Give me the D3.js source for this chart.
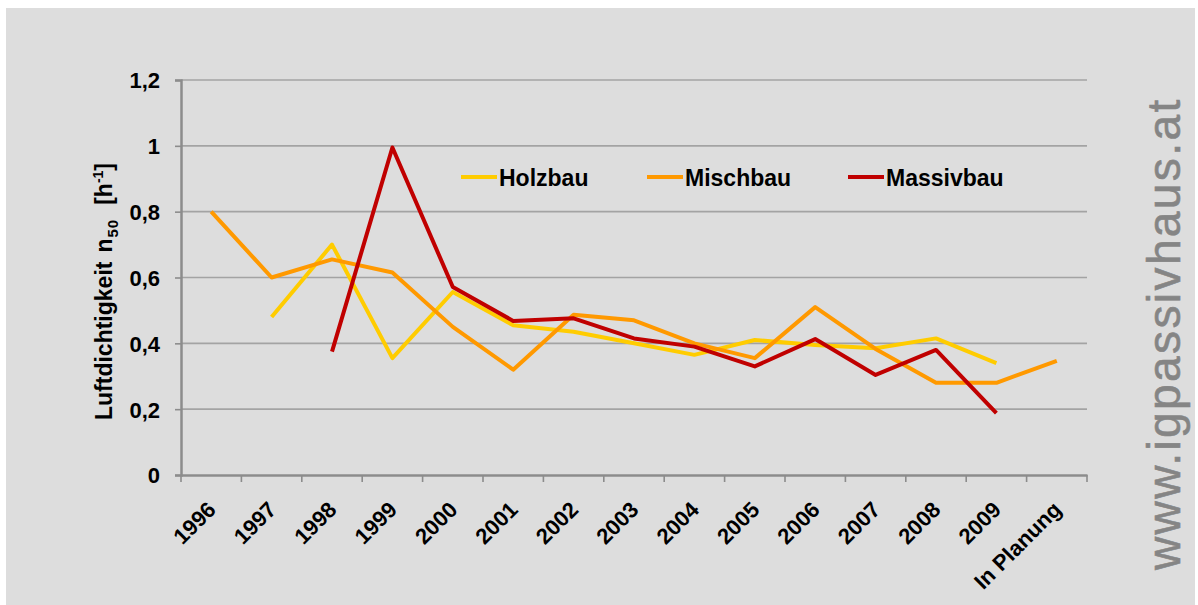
<!DOCTYPE html>
<html>
<head>
<meta charset="utf-8">
<script src="https://cdn.jsdelivr.net/npm/d3@7"></script>
<style>
  html, body { margin: 0; padding: 0; background: #ffffff; }
  svg { display: block; }
  text { font-family: "Liberation Sans", Arial, sans-serif; }
</style>
</head>
<body>
<svg id="chart" width="1198" height="605"></svg>
<script>
const categories = ["1996", "1997", "1998", "1999", "2000", "2001", "2002", "2003", "2004", "2005", "2006", "2007", "2008", "2009", "In Planung"];
const holzbau   = [null, 0.48, 0.70, 0.355, 0.556, 0.455, 0.435, 0.40, 0.365, 0.41, 0.395, 0.385, 0.415, 0.34, null];
const mischbau  = [0.80, 0.60, 0.655, 0.615, 0.45, 0.32, 0.487, 0.47, 0.40, 0.355, 0.51, 0.383, 0.28, 0.28, 0.347];
const massivbau = [null, null, 0.375, 0.995, 0.571, 0.468, 0.476, 0.415, 0.39, 0.33, 0.413, 0.304, 0.38, 0.188, null];
const seriesNames = ["Holzbau", "Mischbau", "Massivbau"];
const yTickValues = [0, 0.2, 0.4, 0.6, 0.8, 1, 1.2];
const yTickLabels = ["0", "0,2", "0,4", "0,6", "0,8", "1", "1,2"];
const watermark = "www.igpassivhaus.at";

const colors = ["#ffcc00", "#ff9900", "#c00000"];
const seriesValues = [holzbau, mischbau, massivbau];

const svg = d3.select("#chart");
const plotLeft = 181, plotRight = 1087, plotTop = 80, plotBottom = 475;

svg.append("rect").attr("x", 6).attr("y", 8).attr("width", 1189).attr("height", 597).attr("fill", "#dddddd");

const x = d3.scaleBand().domain(categories).range([plotLeft, plotRight]).padding(0);
const y = d3.scaleLinear().domain([0, 1.2]).range([plotBottom, plotTop]);

// gridlines
svg.append("g").selectAll("line").data(yTickValues.filter(v => v > 0)).join("line")
  .attr("x1", plotLeft).attr("x2", plotRight)
  .attr("y1", d => y(d)).attr("y2", d => y(d))
  .attr("stroke", "#a3a3a3").attr("stroke-width", 1.6);

// y axis
const yAxis = svg.append("g").attr("transform", `translate(${plotLeft},0)`)
  .call(d3.axisLeft(y).tickValues(yTickValues).tickSize(6).tickPadding(15)
    .tickFormat((d, i) => yTickLabels[i]));
yAxis.select(".domain").attr("stroke", "#8c8c8c").attr("stroke-width", 2.5);
yAxis.selectAll(".tick line").attr("stroke", "#8c8c8c").attr("stroke-width", 1.6);
yAxis.selectAll(".tick text").attr("fill", "#000").style("font-size", "22px").style("font-weight", "bold")
  .attr("dy", "0.36em");

// x axis
const xAxis = svg.append("g").attr("transform", `translate(0,${plotBottom})`)
  .call(d3.axisBottom(x).tickSize(0).tickFormat(""));
xAxis.select(".domain").attr("stroke", "#8c8c8c").attr("stroke-width", 2.5);
xAxis.selectAll(".tick").remove();
const bounds = categories.map(c => x(c)).concat([x(categories[categories.length - 1]) + x.bandwidth()]);
svg.append("g").selectAll("line").data(bounds).join("line")
  .attr("x1", d => d).attr("x2", d => d)
  .attr("y1", plotBottom).attr("y2", plotBottom + 7)
  .attr("stroke", "#8c8c8c").attr("stroke-width", 1.6);
svg.append("g").selectAll("text").data(categories).join("text")
  .attr("transform", d => `translate(${x(d) + x.bandwidth() / 2 + 6},${plotBottom + 36}) rotate(-45)`)
  .attr("text-anchor", "end")
  .style("font-size", "22px").style("font-weight", "bold").attr("fill", "#000")
  .text(d => d);

// lines
const line = d3.line()
  .defined(d => d.v != null)
  .x(d => x(d.c) + x.bandwidth() / 2)
  .y(d => y(d.v));
seriesValues.forEach((vals, i) => {
  svg.append("path")
    .datum(categories.map((c, j) => ({ c, v: vals[j] })))
    .attr("d", line)
    .attr("fill", "none")
    .attr("stroke", colors[i])
    .attr("stroke-width", 4)
    .attr("stroke-linejoin", "round");
});

// legend
const legendX = [461, 647, 848];
const lg = svg.append("g");
seriesNames.forEach((n, i) => {
  lg.append("line").attr("x1", legendX[i]).attr("x2", legendX[i] + 36)
    .attr("y1", 177).attr("y2", 177).attr("stroke", colors[i]).attr("stroke-width", 4);
  lg.append("text").attr("x", legendX[i] + 38).attr("y", 186)
    .style("font-size", "23px").style("font-weight", "bold").attr("fill", "#000").text(n);
});

// y title
const yt = svg.append("text").attr("transform", "translate(112,420) rotate(-90)")
  .attr("text-anchor", "start").style("font-size", "23px").style("font-weight", "bold").attr("fill", "#000");
yt.append("tspan").text("Luftdichtigkeit");
yt.append("tspan").attr("dx", 9).text("n");
yt.append("tspan").attr("dy", 6).attr("dx", 1).style("font-size", "15px").style("letter-spacing", "1px").text("50");
yt.append("tspan").attr("dy", -6).attr("dx", 14).text("[h");
yt.append("tspan").attr("dy", -9).style("font-size", "14px").text("-1");
yt.append("tspan").attr("dy", 9).text("]");

// watermark
svg.append("text").attr("transform", "translate(1180,570) rotate(-90)")
  .attr("text-anchor", "start").style("font-size", "46px").style("letter-spacing", "2.4px")
  .attr("fill", "#858585").attr("stroke", "#858585").attr("stroke-width", 0.6).text(watermark);
</script>
</body>
</html>
